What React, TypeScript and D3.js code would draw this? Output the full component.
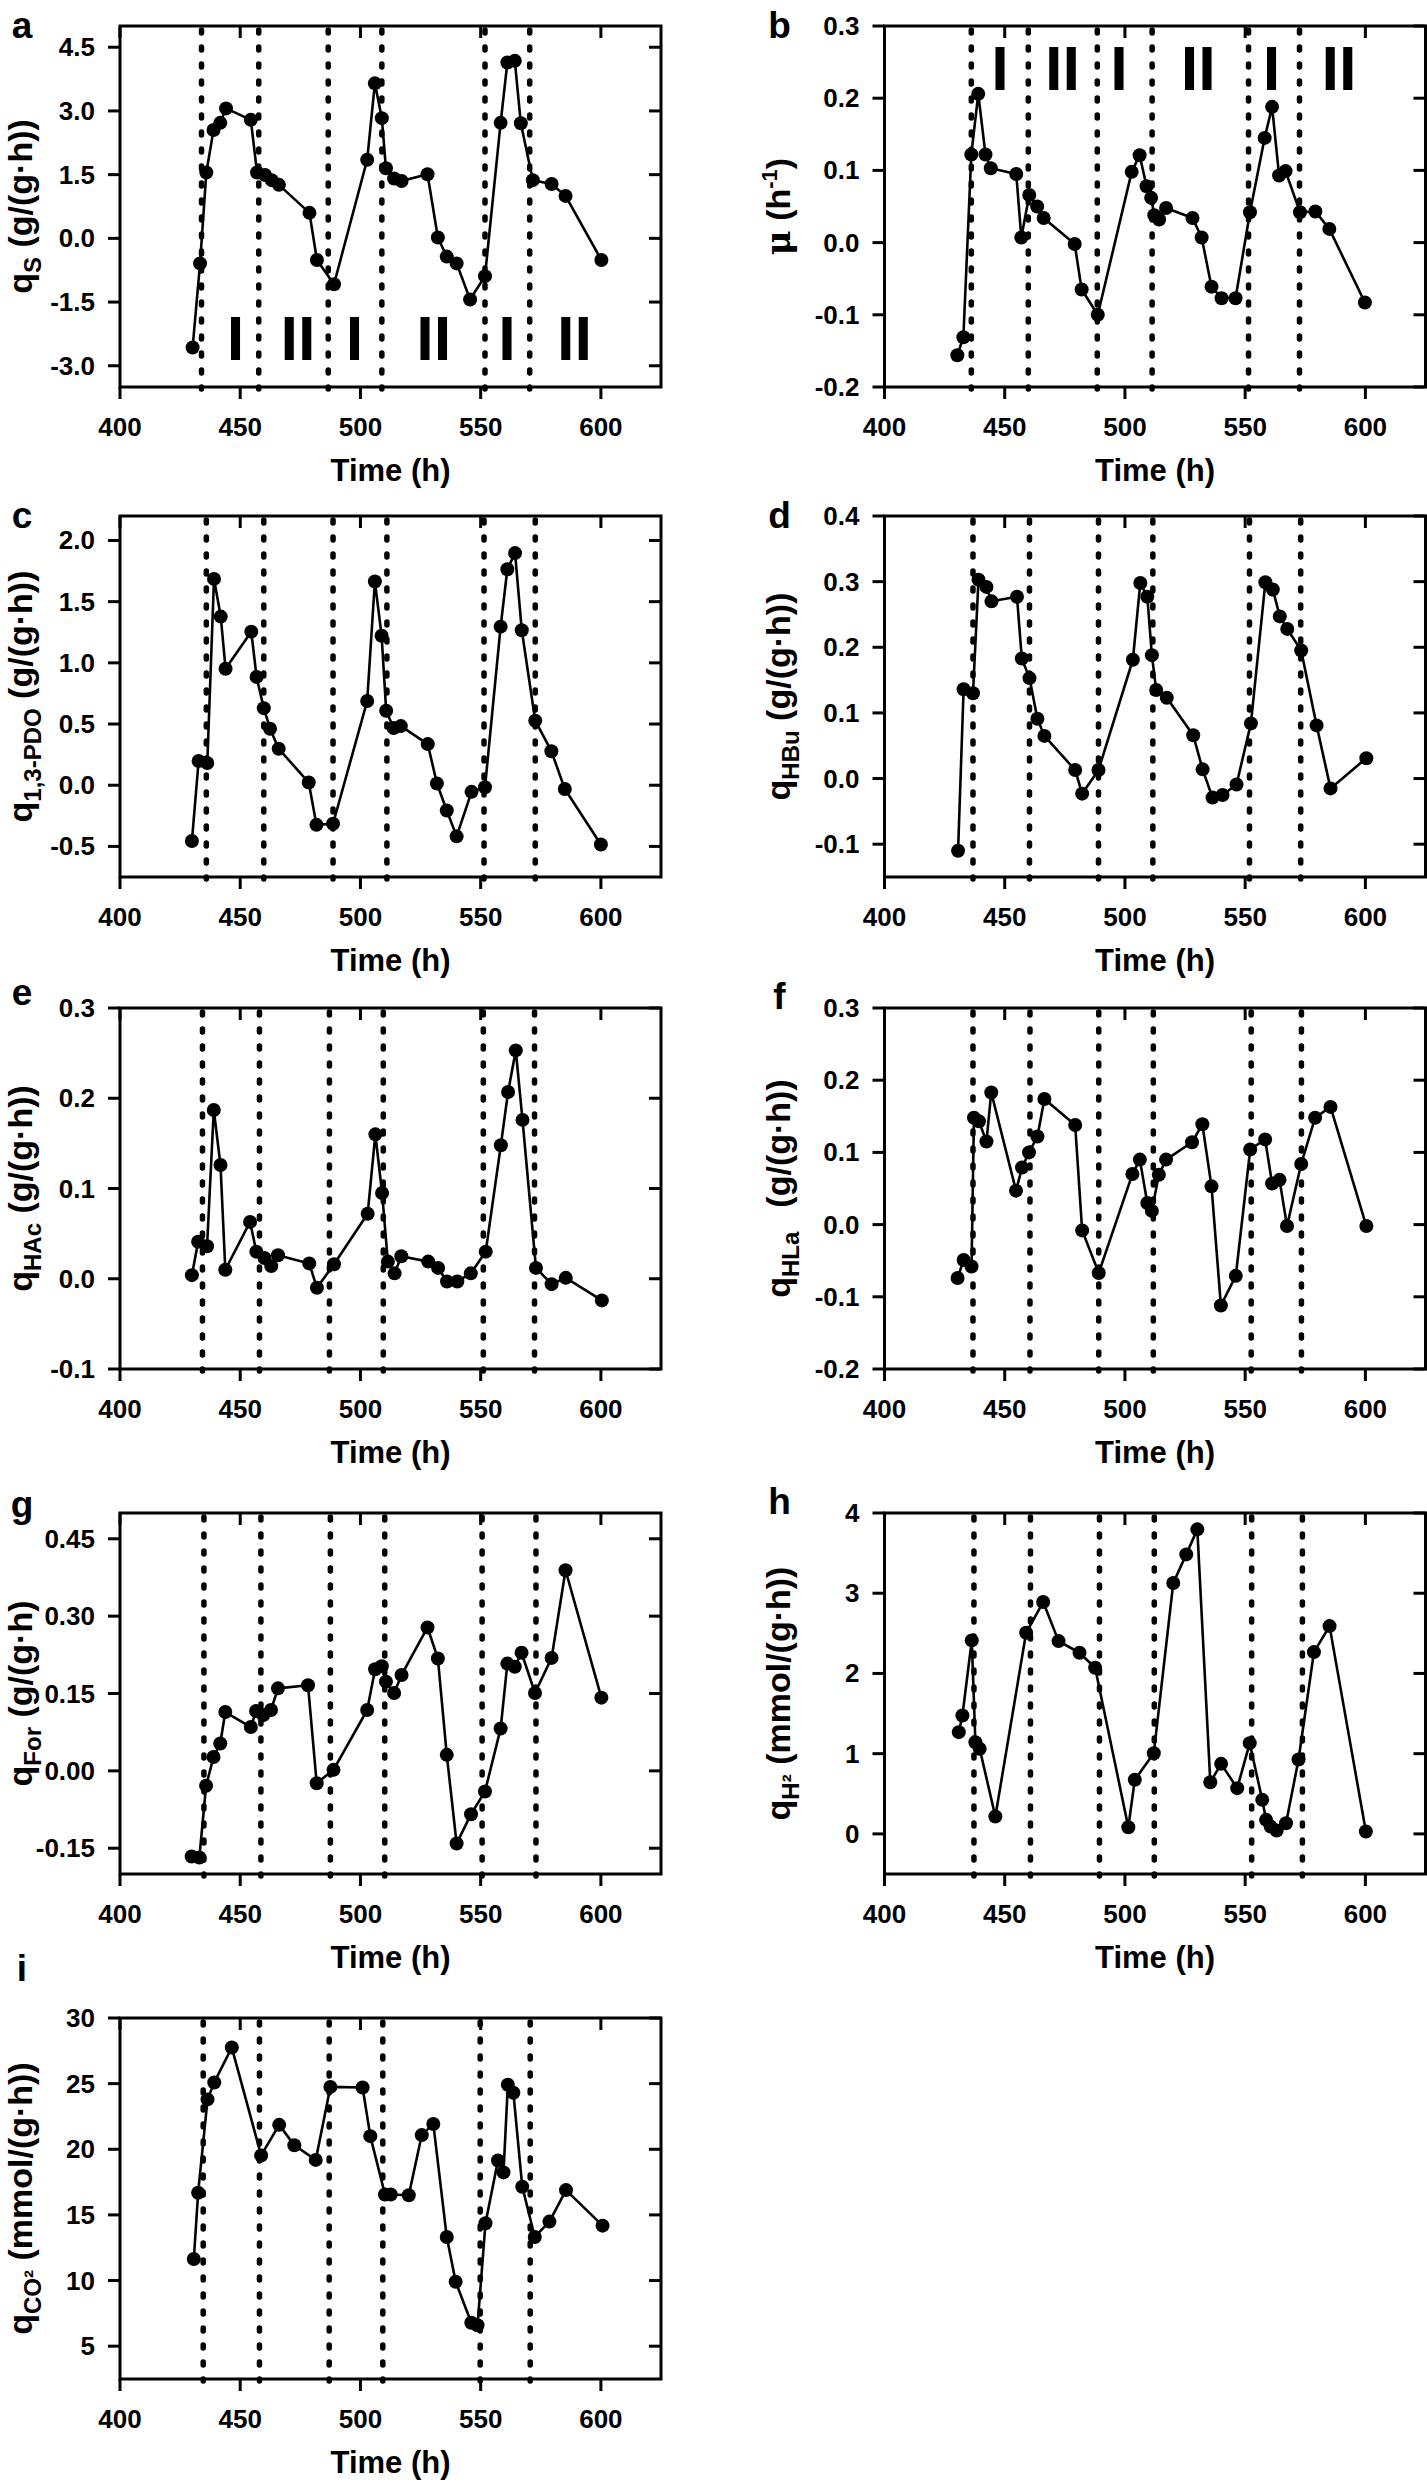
import React from 'react';
import * as d3 from 'd3';

// ---- data ----
const timeA = [430.2, 433.3, 435.9, 438.9, 441.7, 444.1, 454.4, 457.0, 460.3, 463.1, 466.1, 478.8, 481.9, 489.0, 502.8, 506.0, 508.9, 510.6, 514.0, 517.1, 527.9, 532.2, 535.9, 540.0, 545.6, 551.8, 558.3, 561.1, 564.2, 566.7, 571.7, 579.5, 585.3, 600.2];
const qS = [-2.57, -0.59, 1.55, 2.55, 2.72, 3.06, 2.79, 1.55, 1.49, 1.37, 1.26, 0.60, -0.51, -1.08, 1.85, 3.65, 2.83, 1.65, 1.41, 1.35, 1.51, 0.02, -0.43, -0.59, -1.44, -0.89, 2.72, 4.14, 4.18, 2.71, 1.37, 1.28, 1.00, -0.51];

const timeB = [430.3, 432.8, 436.1, 439.0, 442.0, 444.2, 454.8, 456.9, 460.2, 463.5, 466.2, 479.1, 482.0, 488.7, 502.8, 506.1, 509.0, 510.9, 512.2, 514.2, 517.1, 528.1, 531.9, 536.0, 540.2, 546.0, 552.0, 558.1, 561.2, 564.1, 566.8, 572.8, 579.2, 585.0, 599.8];
const mu = [-0.156, -0.131, 0.122, 0.206, 0.122, 0.103, 0.095, 0.007, 0.066, 0.050, 0.034, -0.002, -0.065, -0.100, 0.098, 0.121, 0.078, 0.062, 0.038, 0.032, 0.048, 0.034, 0.007, -0.061, -0.077, -0.077, 0.042, 0.145, 0.188, 0.093, 0.099, 0.042, 0.043, 0.019, -0.083];

const timeC = [429.9, 432.7, 436.3, 439.1, 441.9, 443.9, 454.6, 456.8, 459.8, 462.4, 466.0, 478.5, 481.7, 488.6, 502.8, 506.0, 508.8, 510.7, 513.8, 516.8, 528.0, 531.8, 535.9, 540.0, 546.2, 551.8, 558.3, 561.1, 564.3, 567.1, 572.7, 579.4, 585.0, 600.0];
const qPDO = [-0.456, 0.198, 0.181, 1.686, 1.378, 0.952, 1.255, 0.885, 0.630, 0.462, 0.298, 0.022, -0.324, -0.315, 0.688, 1.665, 1.222, 0.609, 0.468, 0.483, 0.336, 0.014, -0.207, -0.418, -0.054, -0.016, 1.296, 1.765, 1.897, 1.266, 0.527, 0.278, -0.031, -0.485];

const timeD = [430.6, 432.9, 436.8, 439.1, 442.4, 444.5, 455.1, 457.1, 460.3, 463.6, 466.5, 479.3, 482.2, 489.0, 503.3, 506.4, 509.3, 511.2, 513.0, 517.4, 528.4, 532.3, 536.4, 540.6, 546.4, 552.4, 558.4, 561.5, 564.4, 567.5, 573.3, 579.7, 585.5, 600.4];
const qHBu = [-0.110, 0.136, 0.130, 0.303, 0.292, 0.270, 0.277, 0.183, 0.153, 0.091, 0.065, 0.013, -0.023, 0.013, 0.181, 0.298, 0.277, 0.188, 0.135, 0.123, 0.066, 0.014, -0.029, -0.025, -0.009, 0.084, 0.299, 0.288, 0.247, 0.228, 0.195, 0.081, -0.015, 0.031];

const timeE = [429.9, 432.5, 436.2, 439.0, 441.8, 443.8, 454.1, 456.7, 460.1, 462.9, 465.7, 478.7, 481.9, 489.0, 503.0, 506.2, 509.0, 511.4, 514.2, 517.0, 528.2, 532.3, 536.0, 540.3, 545.9, 552.1, 558.4, 561.4, 564.6, 567.4, 573.0, 579.5, 585.4, 600.4];
const qHAc = [0.004, 0.041, 0.036, 0.187, 0.126, 0.010, 0.063, 0.030, 0.023, 0.014, 0.026, 0.017, -0.010, 0.016, 0.072, 0.160, 0.095, 0.019, 0.006, 0.025, 0.019, 0.012, -0.003, -0.003, 0.006, 0.030, 0.148, 0.207, 0.253, 0.176, 0.012, -0.006, 0.001, -0.024];

const timeF = [430.4, 432.9, 436.2, 437.2, 439.3, 442.4, 444.4, 454.7, 457.2, 460.1, 463.6, 466.5, 479.3, 482.2, 489.1, 503.1, 506.2, 509.3, 511.2, 514.1, 517.1, 527.9, 532.2, 536.0, 539.9, 546.1, 552.1, 558.3, 561.2, 564.3, 567.4, 573.3, 579.1, 585.5, 600.4];
const qHLa = [-0.074, -0.049, -0.058, 0.148, 0.143, 0.115, 0.183, 0.047, 0.079, 0.100, 0.122, 0.174, 0.138, -0.008, -0.067, 0.070, 0.090, 0.030, 0.019, 0.069, 0.090, 0.114, 0.139, 0.053, -0.112, -0.071, 0.104, 0.118, 0.057, 0.062, -0.002, 0.084, 0.148, 0.163, -0.002];

const timeG = [429.8, 433.0, 435.8, 438.9, 441.7, 443.8, 454.4, 456.6, 459.6, 462.8, 465.7, 478.2, 481.8, 488.8, 502.8, 506.1, 508.9, 510.6, 514.0, 517.1, 527.9, 532.2, 535.9, 540.0, 546.0, 551.8, 558.3, 561.1, 564.2, 567.0, 572.6, 579.5, 585.3, 600.2];
const qFor = [-0.166, -0.168, -0.029, 0.027, 0.053, 0.114, 0.085, 0.116, 0.108, 0.118, 0.160, 0.166, -0.024, 0.002, 0.118, 0.197, 0.203, 0.173, 0.151, 0.186, 0.278, 0.218, 0.031, -0.141, -0.084, -0.040, 0.082, 0.208, 0.202, 0.229, 0.151, 0.219, 0.389, 0.142];

const timeH = [430.9, 432.4, 436.3, 437.8, 439.6, 446.1, 458.9, 466.0, 472.4, 481.1, 487.6, 501.4, 504.1, 512.0, 520.1, 525.5, 530.1, 535.5, 540.0, 546.7, 551.9, 557.1, 558.7, 560.6, 563.1, 567.0, 572.2, 578.6, 585.1, 600.2];
const qH2 = [1.268, 1.476, 2.412, 1.143, 1.060, 0.216, 2.507, 2.890, 2.403, 2.258, 2.071, 0.083, 0.674, 1.006, 3.127, 3.484, 3.796, 0.644, 0.873, 0.570, 1.131, 0.424, 0.175, 0.091, 0.042, 0.133, 0.927, 2.266, 2.590, 0.029];

const timeI = [430.7, 432.5, 436.4, 439.2, 446.5, 458.7, 466.2, 472.5, 481.4, 487.5, 500.9, 504.1, 510.2, 512.6, 520.1, 525.5, 530.3, 535.9, 539.6, 546.1, 548.7, 552.0, 557.2, 559.5, 561.3, 563.6, 567.3, 572.5, 578.6, 585.5, 600.7];
const qCO2 = [11.64, 16.69, 23.80, 25.09, 27.75, 19.53, 21.86, 20.31, 19.19, 24.75, 24.70, 21.00, 16.56, 16.56, 16.50, 21.08, 21.93, 13.32, 9.91, 6.78, 6.60, 14.36, 19.14, 18.24, 24.91, 24.31, 17.15, 13.32, 14.49, 16.89, 14.18];

// phase boundaries (dotted lines), as drawn in each panel
const phasesA = [433.9, 457.7, 486.6, 508.9, 551.8, 570.4];
const phasesB = [436.1, 459.8, 488.5, 511.3, 551.4, 572.6];
const phasesC = [435.9, 459.8, 488.6, 511.0, 551.4, 572.7];
const phasesD = [436.8, 460.3, 489.0, 511.6, 551.8, 573.1];
const phasesE = [434.3, 458.0, 487.1, 509.5, 551.1, 572.4];
const phasesF = [436.8, 460.5, 489.1, 511.8, 552.5, 573.4];
const phasesG = [434.9, 458.6, 487.5, 510.1, 550.6, 573.0];
const phasesH = [437.2, 460.7, 489.4, 512.2, 552.7, 573.8];
const phasesI = [434.6, 458.0, 487.0, 509.3, 549.8, 570.6];

const phaseNames = ['I', 'II', 'I', 'II', 'I', 'II'];
const phaseNameTimes = [448, 474, 497.5, 530.5, 561, 589];

const xTicks = [400, 450, 500, 550, 600];
const ticksA = [4.5, 3.0, 1.5, 0.0, -1.5, -3.0];
const ticksB = [0.3, 0.2, 0.1, 0.0, -0.1, -0.2];
const ticksC = [2.0, 1.5, 1.0, 0.5, 0.0, -0.5];
const ticksD = [0.4, 0.3, 0.2, 0.1, 0.0, -0.1];
const ticksE = [0.3, 0.2, 0.1, 0.0, -0.1];
const ticksF = [0.3, 0.2, 0.1, 0.0, -0.1, -0.2];
const ticksG = [0.45, 0.30, 0.15, 0.00, -0.15];
const ticksH = [4, 3, 2, 1, 0];
const ticksI = [30, 25, 20, 15, 10, 5];

// ---- layout ----
const FONT = '"Liberation Sans", Arial, Helvetica, sans-serif';
const W = 541;
const H = 361;
const colX = [120, 884.5];
const rowY = [26, 516, 1008, 1513, 2018];

type Seg = { t: string; sub?: boolean; sup?: boolean; serif?: boolean; dx?: number };

const panels = [
  { key: 'a', col: 0, row: 0, t: timeA, v: qS, phases: phasesA, domain: [-3.5, 5.0], ticks: ticksA, fmt: '.1f', letterDy: 0,
    label: [{ t: 'q' }, { t: 'S', sub: true }, { t: ' (g/(g·h))' }], names: -2.87 },
  { key: 'b', col: 1, row: 0, t: timeB, v: mu, phases: phasesB, domain: [-0.2, 0.3], ticks: ticksB, fmt: '.1f', letterDy: 0,
    label: [{ t: 'μ', serif: true }, { t: ' (h' }, { t: '-1', sup: true }, { t: ')' }], names: 0.212 },
  { key: 'c', col: 0, row: 1, t: timeC, v: qPDO, phases: phasesC, domain: [-0.75, 2.2], ticks: ticksC, fmt: '.1f', letterDy: 0,
    label: [{ t: 'q' }, { t: '1,3-PDO', sub: true }, { t: ' (g/(g·h))' }] },
  { key: 'd', col: 1, row: 1, t: timeD, v: qHBu, phases: phasesD, domain: [-0.15, 0.4], ticks: ticksD, fmt: '.1f', letterDy: 0,
    label: [{ t: 'q' }, { t: 'HBu', sub: true }, { t: ' (g/(g·h))' }] },
  { key: 'e', col: 0, row: 2, t: timeE, v: qHAc, phases: phasesE, domain: [-0.1, 0.3], ticks: ticksE, fmt: '.1f', letterDy: -15,
    label: [{ t: 'q' }, { t: 'HAc', sub: true }, { t: ' (g/(g·h))' }] },
  { key: 'f', col: 1, row: 2, t: timeF, v: qHLa, phases: phasesF, domain: [-0.2, 0.3], ticks: ticksF, fmt: '.1f', letterDy: -11,
    label: [{ t: 'q' }, { t: 'HLa', sub: true }, { t: '(g/(g·h))', dx: 24 }] },
  { key: 'g', col: 0, row: 3, t: timeG, v: qFor, phases: phasesG, domain: [-0.2, 0.5], ticks: ticksG, fmt: '.2f', letterDy: -8,
    label: [{ t: 'q' }, { t: 'For', sub: true }, { t: ' (g/(g·h)' }] },
  { key: 'h', col: 1, row: 3, t: timeH, v: qH2, phases: phasesH, domain: [-0.5, 4], ticks: ticksH, fmt: 'd', letterDy: -11,
    label: [{ t: 'q' }, { t: 'H²', sub: true }, { t: ' (mmol/(g·h))' }] },
  { key: 'i', col: 0, row: 4, t: timeI, v: qCO2, phases: phasesI, domain: [2.5, 30], ticks: ticksI, fmt: 'd', letterDy: -49,
    label: [{ t: 'q' }, { t: 'CO²', sub: true }, { t: ' (mmol/(g·h))' }] },
];

function YLabel({ segs, x, y }: { segs: Seg[]; x: number; y: number }) {
  const out: any[] = [];
  let shift = 0;
  segs.forEach((s, i) => {
    let dy = 0;
    let size = 34;
    if (s.sub) { dy = 9 - shift; shift = 9; size = 24; }
    else if (s.sup) { dy = -13 - shift; shift = -13; size = 22; }
    else { dy = -shift; shift = 0; }
    out.push(
      <tspan key={i} dy={dy} dx={s.dx || 0} fontSize={size} fontFamily={s.serif ? '"DejaVu Serif", serif' : FONT}>{s.t}</tspan>
    );
  });
  return (
    <text transform={`translate(${x},${y}) rotate(-90)`} textAnchor="middle" fontWeight="bold" fontFamily={FONT}>{out}</text>
  );
}

function Panel({ p }: { p: any }) {
  const left = colX[p.col];
  const top = rowY[p.row];
  const x = d3.scaleLinear().domain([400, 625]).range([0, W]);
  const y = d3.scaleLinear().domain(p.domain).range([H, 0]);
  const pts: [number, number][] = p.t.map((t: number, i: number) => [t, p.v[i]]);
  const line = d3.line<[number, number]>().x(d => x(d[0])).y(d => y(d[1]));
  const fmt = (v: number) => d3.format(p.fmt)(v).replace('−', '-');
  const letterX = p.col === 0 ? -98 : -105;

  return (
    <g transform={`translate(${left},${top})`}>
      <text x={letterX} y={p.letterDy + 12} fontSize={37} fontWeight="bold" fontFamily={FONT} textAnchor="middle">{p.key}</text>
      {/* phase boundaries */}
      {p.phases.map((t: number, i: number) => (
        <line key={'ph' + i} x1={x(t)} x2={x(t)} y1={4} y2={H + 2} stroke="#000" strokeWidth={5.5}
          strokeDasharray="3 14" strokeLinecap="round" />
      ))}
      {/* phase names */}
      {p.names !== undefined && phaseNames.map((n, i) => (
        <text key={'n' + i} x={x(phaseNameTimes[i])} y={y(p.names)} fontSize={63} fontWeight="bold"
          fontFamily={FONT} textAnchor="middle">{n}</text>
      ))}
      <path d={line(pts) || ''} fill="none" stroke="#000" strokeWidth={2.6} strokeLinejoin="round" />
      {pts.map((d, i) => <circle key={'c' + i} cx={x(d[0])} cy={y(d[1])} r={7} fill="#000" />)}
      {/* frame */}
      <rect x={0} y={0} width={W} height={H} fill="none" stroke="#000" strokeWidth={3} />
      {/* x ticks */}
      {xTicks.map(t => (
        <g key={'xt' + t}>
          <line x1={x(t)} x2={x(t)} y1={H} y2={H + 12} stroke="#000" strokeWidth={3} />
          <line x1={x(t)} x2={x(t)} y1={0} y2={12} stroke="#000" strokeWidth={3} />
          <text x={x(t)} y={H + 49} fontSize={26} fontWeight="bold" fontFamily={FONT} textAnchor="middle">{t}</text>
        </g>
      ))}
      {/* y ticks */}
      {p.ticks.map((t: number) => (
        <g key={'yt' + t}>
          <line x1={-12} x2={0} y1={y(t)} y2={y(t)} stroke="#000" strokeWidth={3} />
          <line x1={W - 12} x2={W} y1={y(t)} y2={y(t)} stroke="#000" strokeWidth={3} />
          <text x={-25} y={y(t) + 9} fontSize={26} fontWeight="bold" fontFamily={FONT} textAnchor="end">{fmt(t)}</text>
        </g>
      ))}
      <text x={W / 2} y={H + 94} fontSize={31} fontWeight="bold" fontFamily={FONT} textAnchor="middle">Time (h)</text>
      <YLabel segs={p.label} x={letterX + 10} y={H / 2} />
    </g>
  );
}

export default function App() {
  return (
    <svg width={1427} height={2482} style={{ position: 'absolute', left: 0, top: 0, background: '#fff' }}>
      {panels.map(p => <Panel key={p.key} p={p} />)}
    </svg>
  );
}
